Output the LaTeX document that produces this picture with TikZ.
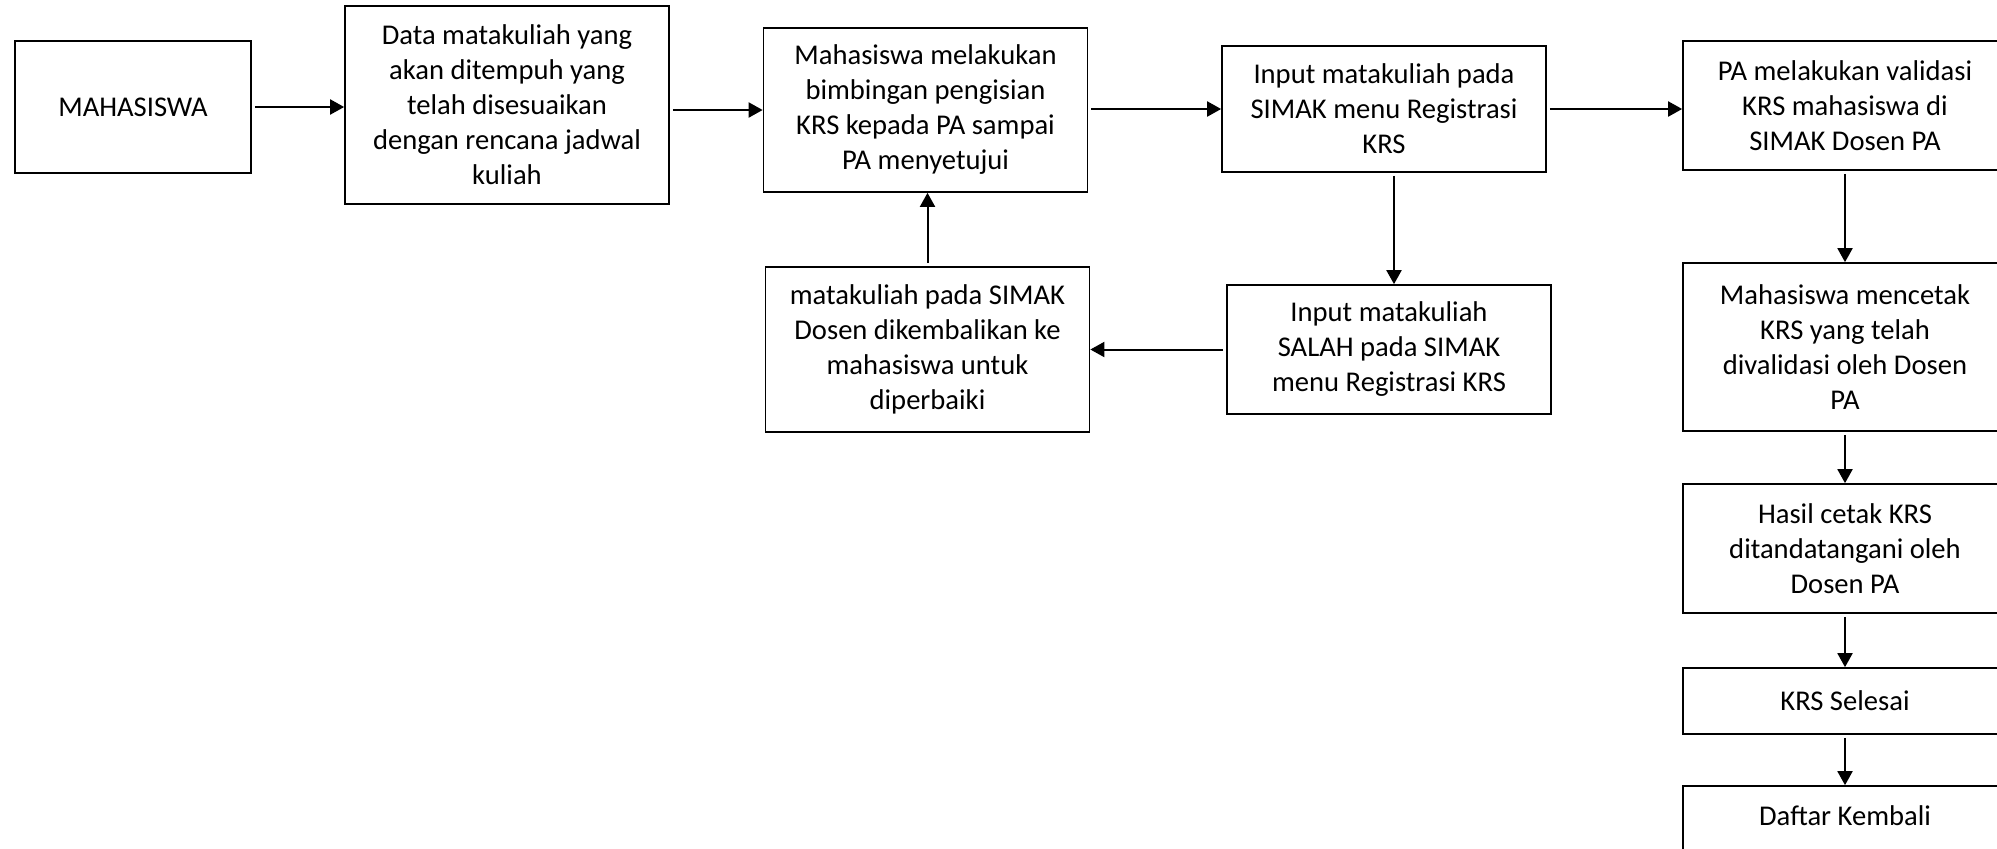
\documentclass[tikz,border=0pt]{standalone}
\usepackage{fontspec}
\setmainfont{Carlito}
\usepackage{tikz}
\usetikzlibrary{arrows.meta}
\tikzstyle{krs_box}=[draw=black, line width=0.85pt, inner sep=0pt, align=center, minimum width=162pt, font=\fontsize{14.3}{17.5}\selectfont]
\tikzstyle{krs_flow}=[draw=black, line width=1pt, -{Triangle[length=7pt,width=7.5pt]}, shorten <=1.5pt]

\begin{document}
\begin{tikzpicture}[x=0.5pt,y=-0.5pt]
\useasboundingbox (0,0) rectangle (1997,848);
\node[krs_box, minimum width=118pt, minimum height=66pt] (mhs) at (133,107){MAHASISWA};
\node[krs_box, minimum height=99pt] (data) at (507,105){Data matakuliah yang\\akan ditempuh yang\\telah disesuaikan\\dengan rencana jadwal\\kuliah};
\node[krs_box, minimum height=82pt] (bimb) at (925.5,110){Mahasiswa melakukan\\bimbingan pengisian\\KRS kepada PA sampai\\PA menyetujui};
\node[krs_box, minimum height=63pt] (inpt) at (1384,109){Input matakuliah pada\\SIMAK menu Registrasi\\KRS};
\node[krs_box, minimum height=64.5pt] (salah) at (1389,349.5){Input matakuliah\\SALAH pada SIMAK\\menu Registrasi KRS};
\node[krs_box, minimum height=82.5pt] (balik) at (927.5,349.5){matakuliah pada SIMAK\\Dosen dikembalikan ke\\mahasiswa untuk\\diperbaiki};
\node[krs_box, minimum height=64.5pt] (valid) at (1845,105.5){PA melakukan validasi\\KRS mahasiswa di\\SIMAK Dosen PA};
\node[krs_box, minimum height=84pt] (cetak) at (1845,347){Mahasiswa mencetak\\KRS yang telah\\divalidasi oleh Dosen\\PA};
\node[krs_box, minimum height=64.5pt] (ttd) at (1845,548.5){Hasil cetak KRS\\ditandatangani oleh\\Dosen PA};
\node[krs_box, minimum height=33pt] (done) at (1845,701){KRS Selesai};
\node[krs_box, minimum height=47pt] (daftar) at (1845,833){Daftar Kembali\\\mbox{}};
\draw[krs_flow](mhs.east) -- (mhs.east -| data.west);
\draw[krs_flow](bimb.west -| data.east) -- (bimb.west);
\draw[krs_flow](inpt.west -| bimb.east) -- (inpt.west);
\draw[krs_flow](inpt.east) -- (inpt.east -| valid.west);
\draw[krs_flow]([xshift=5pt]inpt.south) -- ([xshift=5pt]inpt.south |- salah.north);
\draw[krs_flow](salah.west) -- (salah.west -| balik.east);
\draw[krs_flow](balik.north) -- (balik.north |- bimb.south);
\draw[krs_flow](valid) -- (cetak);
\draw[krs_flow](cetak) -- (ttd);
\draw[krs_flow](ttd) -- (done);
\draw[krs_flow](done) -- (daftar);
\end{tikzpicture}
\end{document}
